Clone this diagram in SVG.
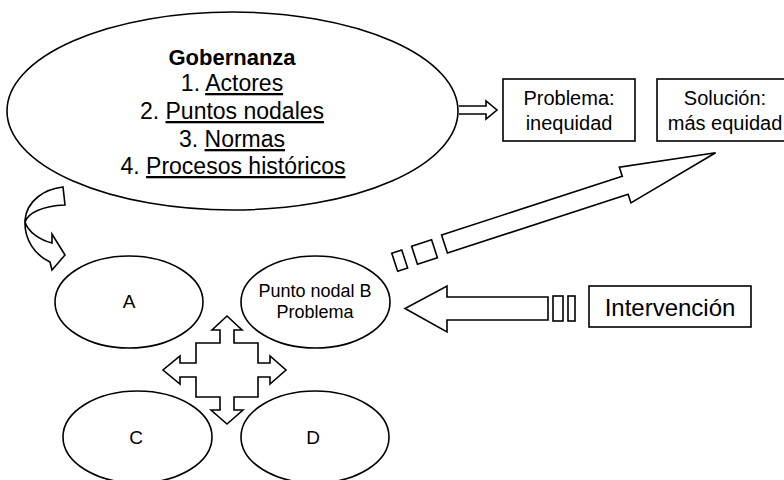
<svg xmlns="http://www.w3.org/2000/svg" width="784" height="480" viewBox="0 0 784 480">
<style>
.sh{fill:#fff;stroke:#000;stroke-width:1.6}
.t{font-family:"Liberation Sans",Arial,sans-serif;fill:#000;text-anchor:middle}
.u{text-decoration:underline}
</style>
<rect width="784" height="480" fill="#fff"/>
<g id="gobernanza">
<ellipse class="sh" cx="232.5" cy="111" rx="225.5" ry="99"/>
<text class="t" x="232" y="65" font-size="22" font-weight="bold">Gobernanza</text>
<text class="t" x="232" y="91" font-size="23">1. <tspan class="u">Actores</tspan></text>
<text class="t" x="232" y="119" font-size="23">2. <tspan class="u">Puntos nodales</tspan></text>
<text class="t" x="232" y="147" font-size="23">3. <tspan class="u">Normas</tspan></text>
<text class="t" x="233" y="174" font-size="23">4. <tspan class="u">Procesos históricos</tspan></text>
</g>
<g id="problema">
<rect class="sh" x="503" y="79" width="132" height="62"/>
<text class="t" x="569" y="105" font-size="20">Problema:</text>
<text class="t" x="569" y="130" font-size="20">inequidad</text>
</g>
<g id="solucion">
<rect class="sh" x="657" y="79" width="134" height="62"/>
<text class="t" x="725" y="105" font-size="20">Solución:</text>
<text class="t" x="725" y="130" font-size="20">más equidad</text>
</g>
<g id="nodoA">
<ellipse class="sh" cx="129" cy="302" rx="74" ry="46"/>
<text class="t" x="129" y="308" font-size="19">A</text>
</g>
<g id="nodoB">
<ellipse class="sh" cx="315.5" cy="302" rx="74.5" ry="46"/>
<text class="t" x="315" y="297" font-size="18">Punto nodal B</text>
<text class="t" x="315" y="318" font-size="18">Problema</text>
</g>
<g id="nodoC">
<ellipse class="sh" cx="137.5" cy="437" rx="74.5" ry="46"/>
<text class="t" x="136" y="444" font-size="19">C</text>
</g>
<g id="nodoD">
<ellipse class="sh" cx="315" cy="437" rx="74" ry="46"/>
<text class="t" x="313" y="444" font-size="19">D</text>
</g>
<g id="intervencion">
<rect class="sh" x="589" y="286" width="162" height="41"/>
<text class="t" x="670" y="316" font-size="24">Intervención</text>
</g>
<g id="connectors">
<path class="sh" d="M459,106 L486,106 L486,101 L497,110 L486,119 L486,114 L459,114"/>
<path class="sh" d="M63,187 C45,189 27,200 25,220 C24,240 35,255 50,262 L52,270 L65,255 L52,234 L52,243 C40,240 28,232 25,222 C28,213 42,206 65,205 Z"/>
<g transform="translate(444.5,244) rotate(-18)">
<path class="sh" d="M0,-9.5 L190,-9.5 L190,-19 L286,-3 L190,18.5 L190,9.5 L0,9.5 Z"/>
<rect class="sh" x="-32" y="-8" width="21" height="19"/>
<rect class="sh" x="-53" y="-7.5" width="10.5" height="19"/>
</g>
<path class="sh" d="M548,297 L447,297 L447,286 L405,308.5 L447,332 L447,320 L548,320 Z"/>
<rect class="sh" x="553" y="296" width="10" height="25"/>
<rect class="sh" x="568" y="296" width="7" height="25"/>
<path class="sh" d="M227,316 L242,330 L234,330 L234,343 L258,343 L258,363 L270,363 L270,356 L286,370 L270,384 L270,377 L258,377 L258,397 L234,397 L234,410 L243,410 L227,424 L211,410 L220,410 L220,397 L196,397 L196,377 L180,377 L180,384 L163,370 L180,356 L180,363 L196,363 L196,343 L220,343 L220,330 L212,330 Z"/>
</g>
</svg>
